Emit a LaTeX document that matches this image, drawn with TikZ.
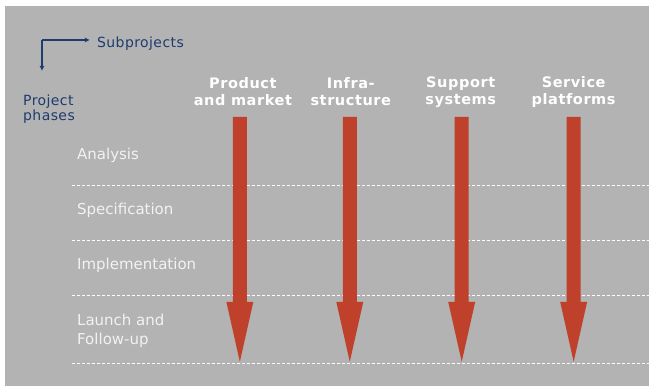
\documentclass[tikz,border=0pt]{standalone}
\usepackage{fontspec}
\setmainfont{DejaVu Sans}
\newfontfamily\hdrfont[LetterSpace=4]{DejaVu Sans}
\newfontfamily\axisfont[LetterSpace=3]{DejaVu Sans}
\usepackage{tikz}
\usetikzlibrary{arrows.meta}
\definecolor{bggray}{HTML}{B3B3B3}
\definecolor{arrred}{HTML}{C0412B}
\definecolor{txtblue}{HTML}{1E3C6E}
\definecolor{phasewhite}{HTML}{F2F2F2}
\tikzstyle{hdr}=[align=center, text=white, font=\hdrfont\fontsize{14.5}{17}\selectfont\bfseries, inner sep=0pt]
\tikzstyle{phase}=[anchor=west, align=left, text=phasewhite, font=\fontsize{15}{19}\selectfont, inner sep=0pt]
\tikzstyle{axis}=[txtblue, line width=1.2pt, -{Latex[length=5pt,width=5pt]}]
\tikzstyle{axislabel}=[text=txtblue, font=\axisfont\fontsize{14}{15.5}\selectfont, inner sep=0pt]
\tikzstyle{bigarrow}=[fill=arrred, draw=none]
\tikzstyle{sep}=[white, line width=.8pt, dash pattern=on 3pt off 2pt]

\begin{document}
\begin{tikzpicture}[x=1pt, y=-1pt]
				\fill[white] (0,0) rectangle (649,387);
				\fill[bggray] (5,6) rectangle (649,386);
				\coordinate (corner) at (42,40);
				\draw[axis] (corner) -- (90,40);
				\draw[axis] (corner) -- (42,71);
				\node[axislabel, anchor=west] (subproj) at (97,44) {Subprojects};
				\node[axislabel, anchor=west, align=left] (phases) at (23,109) {Project\\phases};
				\node[hdr] (prod) at (243,92) {Product\\and market};
				\node[hdr] (infra) at (351,92) {Infra-\\structure};
				\node[hdr] (supp) at (461,92) {Support\\systems};
				\node[hdr] (serv) at (574,92) {Service\\platforms};
				\node[phase] (ana) at (77,155) {Analysis};
				\node[phase] (spec) at (77,210) {Specification};
				\node[phase] (impl) at (77,266) {Implementation};
				\node[phase] (launch) at (77,331) {Launch and\\Follow-up};
				\foreach \y in {186,241,296,364} {
					\draw[sep] (72,\y) -- (649,\y);
				}
				\foreach \h/\x in {prod/240,infra/350,supp/462,serv/574} {
					\coordinate (\h top) at (\x,117);
					\coordinate (\h end) at (\x,362);
					\fill[bigarrow] (\h top) ++(-7,0) -- ++(14,0) -- ++(0,185) -- ++(6.5,0) -- (\h end) -- ++(-13.5,-60) -- ++(6.5,0) -- cycle;
				}
			\end{tikzpicture}
\end{document}
